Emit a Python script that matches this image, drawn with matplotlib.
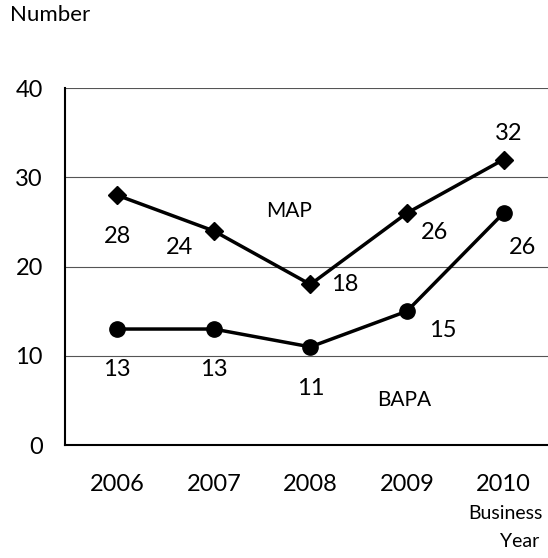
import numpy as np
import matplotlib
matplotlib.use('Agg')
from matplotlib import pyplot as plt

plt.rcParams['font.family'] = ['Lato', 'DejaVu Sans']

years = ['2006', '2007', '2008', '2009', '2010']
map_vals = [28, 24, 18, 26, 32]
bapa_vals = [13, 13, 11, 15, 26]
yticks = [0, 10, 20, 30, 40]

# label offsets in points (dx, dy) for each data label
map_off = [(0, -30), (-25, -12), (25, 0), (20, -14), (4, 19)]
bapa_off = [(0, -29), (0, -29), (0, -30), (26, -14), (14, -25)]

x = np.arange(len(years))

fig = plt.figure(figsize=(5.48, 5.58), dpi=100)
ax = fig.add_axes([0.1186, 0.2025, 0.8814, 0.6395])

ax.plot(x, map_vals, '-D', color='black', lw=2.5, ms=9)
ax.plot(x, bapa_vals, '-o', color='black', lw=2.5, ms=11)

for xi, v, (dx, dy) in zip(x, map_vals, map_off):
    ax.annotate(str(v), (xi, v), xytext=(dx, dy), textcoords='offset points',
                ha='center', va='center', fontsize=17)
for xi, v, (dx, dy) in zip(x, bapa_vals, bapa_off):
    ax.annotate(str(v), (xi, v), xytext=(dx, dy), textcoords='offset points',
                ha='center', va='center', fontsize=17)

ax.text(1.78, 26.2, 'MAP', ha='center', va='center', fontsize=15)
ax.text(2.97, 5.0, 'BAPA', ha='center', va='center', fontsize=15)

ax.set_xlim(-0.54, 4.46)
ax.set_ylim(0, 40)
ax.set_xticks(x)
ax.set_xticklabels(years)
ax.set_yticks(yticks)
ax.tick_params(length=0, labelsize=17)
ax.tick_params(axis='x', pad=21)
ax.tick_params(axis='y', pad=16)
ax.yaxis.grid(True, color='#555555', lw=0.8)
ax.set_axisbelow(True)
for s in ['top', 'right']:
    ax.spines[s].set_visible(False)
ax.spines['left'].set_linewidth(1.5)
ax.spines['bottom'].set_linewidth(1.5)

fig.text(0.018, 0.973, 'Number', ha='left', va='center', fontsize=16)
fig.text(0.9215, 0.079, 'Business', ha='center', va='center', fontsize=14)
fig.text(0.949, 0.030, 'Year', ha='center', va='center', fontsize=14)

fig.savefig('out.png', dpi=100)
